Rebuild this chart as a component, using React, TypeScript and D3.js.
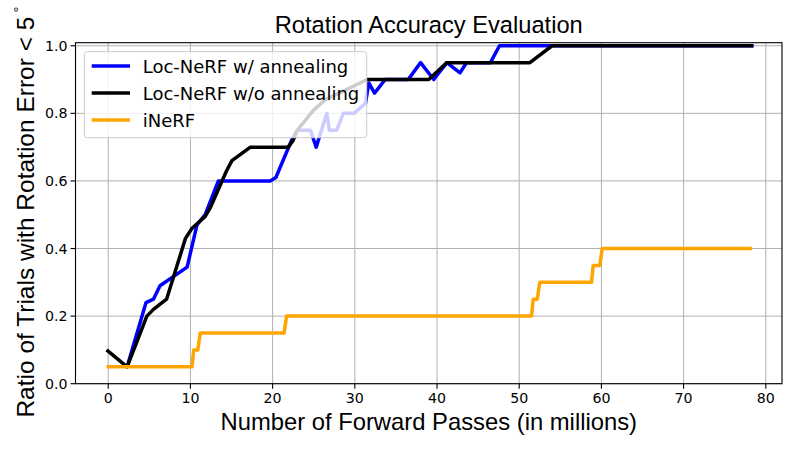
import * as React from "react";
import * as d3 from "d3";

const W = 800;
const H = 450;

// values (x in millions of forward passes)
const blueX = [2.3, 4.6, 5.5, 6.3, 9.6, 10.8, 11.8, 13.4, 19.7, 20.4, 22.3, 23, 24.6, 25.3, 26.6, 26.9, 27.8, 28.6, 29.9, 31.3, 31.7, 32.4, 33.7, 36.5, 38, 39.6, 41.2, 42.8, 43.6, 46.5, 47.6, 78.5];
const blueY = [0.05, 0.24, 0.25, 0.29, 0.345, 0.47, 0.5, 0.6, 0.6, 0.61, 0.72, 0.75, 0.75, 0.7, 0.8, 0.75, 0.75, 0.8, 0.8, 0.83, 0.89, 0.86, 0.9, 0.9, 0.95, 0.9, 0.95, 0.92, 0.95, 0.95, 1.0, 1.0];

const blackX = [-0.2, 2.3, 4.7, 5.5, 7.1, 9.4, 10.2, 11.8, 12.4, 14.4, 15.05, 17.3, 21.9, 22.5, 23, 25, 26.4, 31.5, 31.9, 39, 41.2, 41.8, 51.3, 54, 78.5];
const blackY = [0.1, 0.05, 0.2, 0.22, 0.25, 0.43, 0.46, 0.495, 0.52, 0.63, 0.66, 0.7, 0.7, 0.72, 0.75, 0.81, 0.84, 0.9, 0.9, 0.9, 0.95, 0.95, 0.95, 1.0, 1.0];

const orangeX = [-0.2, 10.2, 10.4, 10.9, 11.2, 21.4, 21.7, 51.5, 51.7, 52.2, 52.5, 58.8, 59.0, 59.8, 60.1, 78.3];
const orangeY = [0.05, 0.05, 0.1, 0.1, 0.15, 0.15, 0.2, 0.2, 0.25, 0.25, 0.3, 0.3, 0.35, 0.35, 0.4, 0.4];

const xTicks = [0, 10, 20, 30, 40, 50, 60, 70, 80];
const yTicks = [0, 0.2, 0.4, 0.6, 0.8, 1.0];

const series = [
  { name: "Loc-NeRF w/ annealing", color: "#0000ff", xs: blueX, ys: blueY },
  { name: "Loc-NeRF w/o annealing", color: "#000000", xs: blackX, ys: blackY },
  { name: "iNeRF", color: "#ffa500", xs: orangeX, ys: orangeY },
];

const margin = { left: 75.5, right: 18, top: 42.7, bottom: 66.3 };

export default function App() {
  const xScale = d3
    .scaleLinear()
    .domain([-3.98, 81.97])
    .range([margin.left, W - margin.right]);
  const yScale = d3
    .scaleLinear()
    .domain([0, 1.009])
    .range([H - margin.bottom, margin.top]);

  const line = d3
    .line<[number, number]>()
    .x((d) => xScale(d[0]))
    .y((d) => yScale(d[1]));

  const x0 = margin.left;
  const x1 = W - margin.right;
  const y0 = H - margin.bottom;
  const y1 = margin.top;
  const tickFont = "DejaVu Sans, sans-serif";
  const labelFont = "Liberation Sans, Arial, sans-serif";

  return (
    <svg width={W} height={H} style={{ position: "absolute", left: 0, top: 0, background: "#fff" }}>
      <rect x={0} y={0} width={W} height={H} fill="#fff" />
      {/* grid */}
      <g stroke="#b0b0b0" strokeWidth={1}>
        {xTicks.map((t) => (
          <line key={"gx" + t} x1={xScale(t)} x2={xScale(t)} y1={y0} y2={y1} />
        ))}
        {yTicks.map((t) => (
          <line key={"gy" + t} x1={x0} x2={x1} y1={yScale(t)} y2={yScale(t)} />
        ))}
      </g>

      {/* lines */}
      {series.map((s) => (
        <path
          key={s.name}
          d={line(s.xs.map((x, i) => [x, s.ys[i]] as [number, number])) || ""}
          fill="none"
          stroke={s.color}
          strokeWidth={3.5}
          strokeLinejoin="round"
          strokeLinecap="butt"
        />
      ))}

      {/* frame */}
      <rect x={x0} y={y1} width={x1 - x0} height={y0 - y1} fill="none" stroke="#000" strokeWidth={1.1} />

      {/* ticks */}
      <g stroke="#000" strokeWidth={1.1}>
        {xTicks.map((t) => (
          <line key={"tx" + t} x1={xScale(t)} x2={xScale(t)} y1={y0} y2={y0 + 5} />
        ))}
        {yTicks.map((t) => (
          <line key={"ty" + t} x1={x0 - 5} x2={x0} y1={yScale(t)} y2={yScale(t)} />
        ))}
      </g>
      <g fontFamily={tickFont} fontSize={14.2} fill="#000">
        {xTicks.map((t) => (
          <text key={"lx" + t} x={xScale(t)} y={y0 + 19.5} textAnchor="middle">
            {t}
          </text>
        ))}
        {yTicks.map((t) => (
          <text key={"ly" + t} x={x0 - 8} y={yScale(t) + 5} textAnchor="end">
            {t.toFixed(1)}
          </text>
        ))}
      </g>

      {/* title and axis labels */}
      <text x={(x0 + x1) / 2} y={33} textAnchor="middle" fontFamily={labelFont} fontSize={23.7}>
        Rotation Accuracy Evaluation
      </text>
      <text x={(x0 + x1) / 2} y={430} textAnchor="middle" fontFamily={labelFont} fontSize={23.8}>
        Number of Forward Passes (in millions)
      </text>
      <text
        transform={`translate(34, ${(12 + 412) / 2}) rotate(-90)`}
        textAnchor="middle"
        fontFamily={labelFont}
        fontSize={24.5}
      >
        Ratio of Trials with Rotation Error &lt; 5
        <tspan fontSize={15} dy={-10}>
          {" °"}
        </tspan>
      </text>

      {/* legend */}
      <g>
        <rect x={84.3} y={51.7} width={282.4} height={86} rx={3} fill="#fff" fillOpacity={0.8} stroke="#cccccc" strokeWidth={1} />
        {series.map((s, i) => (
          <g key={"lg" + s.name}>
            <line x1={91.7} x2={130} y1={66 + i * 27} y2={66 + i * 27} stroke={s.color} strokeWidth={3.5} />
            <text x={142.7} y={66 + i * 27 + 6.5} fontFamily={tickFont} fontSize={18} fill="#000">
              {s.name}
            </text>
          </g>
        ))}
      </g>
    </svg>
  );
}
